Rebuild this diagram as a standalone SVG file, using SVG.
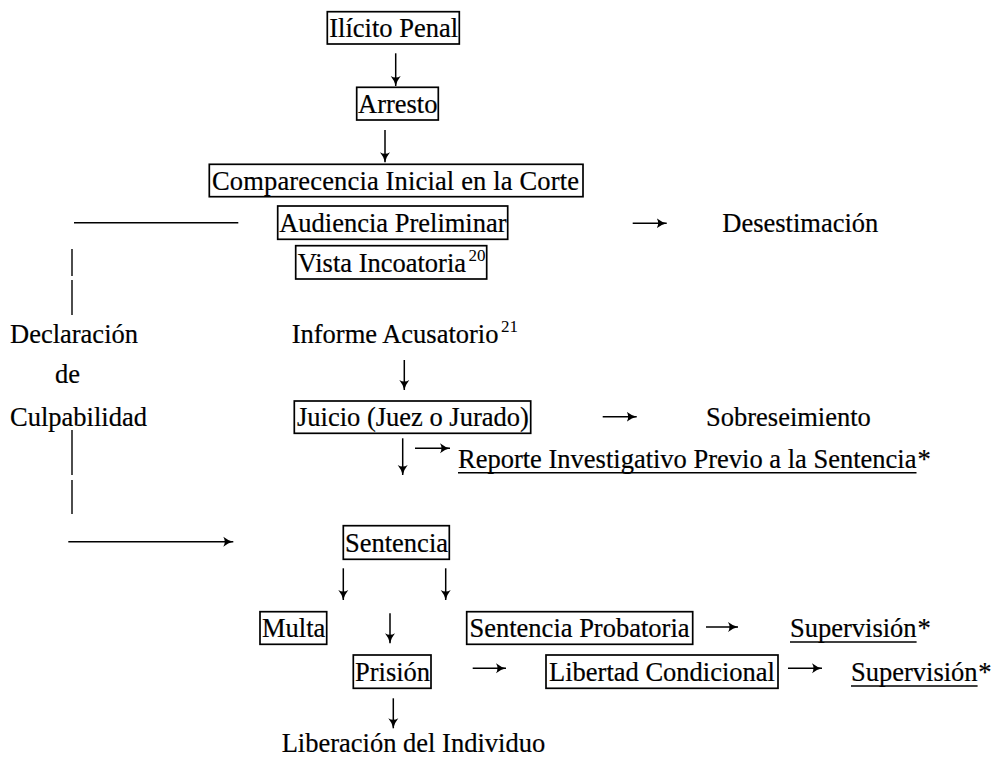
<svg xmlns="http://www.w3.org/2000/svg" width="993" height="757" viewBox="0 0 993 757">
<defs>
<marker id="ah" viewBox="0 0 10 10" refX="10" refY="5" markerUnits="userSpaceOnUse" markerWidth="10" markerHeight="12" orient="auto">
<path d="M0,0 Q5,4 10,5 Q5,6 0,10 Q3,5 0,0 z" fill="#000"/>
</marker>
</defs>
<style>
.t{font-family:"Liberation Serif","Times New Roman",serif;font-size:26.5px;fill:#000;stroke:#000;stroke-width:0.2}
.s{font-family:"Liberation Serif","Times New Roman",serif;font-size:17px;fill:#000}
.b{fill:none;stroke:#000;stroke-width:1.7}
.c{fill:none;stroke:#000;stroke-width:1.4}
.a{fill:none;stroke:#000;stroke-width:1.5;marker-end:url(#ah)}
</style>
<rect width="993" height="757" fill="#fff"/>
<g id="connectors">
<line class="a" x1="395.7" y1="53.3" x2="395.7" y2="86"/>
<line class="a" x1="385" y1="130" x2="385" y2="162.3"/>
<line class="c" x1="74" y1="222.7" x2="238.3" y2="222.7"/>
<line class="a" x1="632.7" y1="223.3" x2="666.7" y2="223.3"/>
<line class="c" x1="72" y1="249" x2="72" y2="276"/>
<line class="c" x1="72" y1="280" x2="72" y2="315"/>
<line class="a" x1="404.3" y1="360" x2="404.3" y2="390"/>
<line class="a" x1="602.7" y1="416.7" x2="636.7" y2="416.7"/>
<line class="a" x1="402.7" y1="438.3" x2="402.7" y2="475"/>
<line class="a" x1="415" y1="448.3" x2="450" y2="448.3"/>
<line class="c" x1="72" y1="430" x2="72" y2="475"/>
<line class="c" x1="72" y1="480" x2="72" y2="514"/>
<line class="a" x1="68.3" y1="541.7" x2="233.3" y2="541.7"/>
<line class="a" x1="343.3" y1="568.3" x2="343.3" y2="600"/>
<line class="a" x1="445.7" y1="568.3" x2="445.7" y2="600"/>
<line class="a" x1="390" y1="613.3" x2="390" y2="643.3"/>
<line class="a" x1="706" y1="627" x2="738" y2="627"/>
<line class="a" x1="472.7" y1="668.3" x2="506" y2="668.3"/>
<line class="a" x1="788" y1="668.3" x2="822" y2="668.3"/>
<line class="a" x1="393.3" y1="698.3" x2="393.3" y2="728.3"/>
</g>
<g id="ilicito"><rect class="b" x="327.3" y="11.7" width="132" height="32.3"/><text class="t" x="329.3" y="36.7">Ilícito Penal</text></g>
<g id="arresto"><rect class="b" x="356.7" y="87.3" width="81.6" height="32.7"/><text class="t" x="358" y="112.7">Arresto</text></g>
<g id="comparecencia"><rect class="b" x="209.3" y="164.3" width="373.7" height="32.4"/><text class="t" x="212" y="189.5" textLength="367" lengthAdjust="spacing">Comparecencia Inicial en la Corte</text></g>
<g id="audiencia"><rect class="b" x="277.7" y="206" width="230" height="33.3"/><text class="t" x="279.2" y="232">Audiencia Preliminar</text></g>
<g id="desestimacion"><text class="t" x="722.3" y="232">Desestimación</text></g>
<g id="vista"><rect class="b" x="295.7" y="245.7" width="191" height="33.3"/><text class="t" x="297.7" y="271.7">Vista Incoatoria</text><text class="s" x="468.5" y="260.5">20</text></g>
<g id="declaracion"><text class="t" x="10" y="342.5">Declaración</text><text class="t" x="55" y="382.5">de</text><text class="t" x="10" y="426">Culpabilidad</text></g>
<g id="informe"><text class="t" x="291.7" y="342.5">Informe Acusatorio</text><text class="s" x="501" y="332">21</text></g>
<g id="juicio"><rect class="b" x="294.3" y="401" width="236.4" height="32.3"/><text class="t" x="297" y="426">Juicio (Juez o Jurado)</text></g>
<g id="sobreseimiento"><text class="t" x="706" y="426">Sobreseimiento</text></g>
<g id="reporte"><text class="t" x="458" y="467.5">Reporte Investigativo Previo a la Sentencia</text><text class="t" x="917.5" y="467.5">*</text><line class="c" x1="458" y1="472.7" x2="916.5" y2="472.7"/></g>
<g id="sentencia"><rect class="b" x="343.3" y="525.7" width="106" height="33.6"/><text class="t" x="345" y="552">Sentencia</text></g>
<g id="multa"><rect class="b" x="260" y="611.7" width="66.7" height="32.6"/><text class="t" x="262" y="637">Multa</text></g>
<g id="probatoria"><rect class="b" x="466.7" y="611.7" width="226" height="32.6"/><text class="t" x="469.5" y="637">Sentencia Probatoria</text></g>
<g id="supervision1"><text class="t" x="790" y="637">Supervisión</text><text class="t" x="917.5" y="637">*</text><line class="c" x1="790" y1="642" x2="916.6" y2="642"/></g>
<g id="prision"><rect class="b" x="353.3" y="655" width="77.7" height="33.3"/><text class="t" x="355" y="681">Prisión</text></g>
<g id="libertad"><rect class="b" x="546" y="655" width="232" height="33.3"/><text class="t" x="549" y="681">Libertad Condicional</text></g>
<g id="supervision2"><text class="t" x="851" y="681">Supervisión</text><text class="t" x="978.2" y="681">*</text><line class="c" x1="851" y1="686" x2="977.6" y2="686"/></g>
<g id="liberacion"><text class="t" x="281.7" y="752">Liberación del Individuo</text></g>
</svg>
